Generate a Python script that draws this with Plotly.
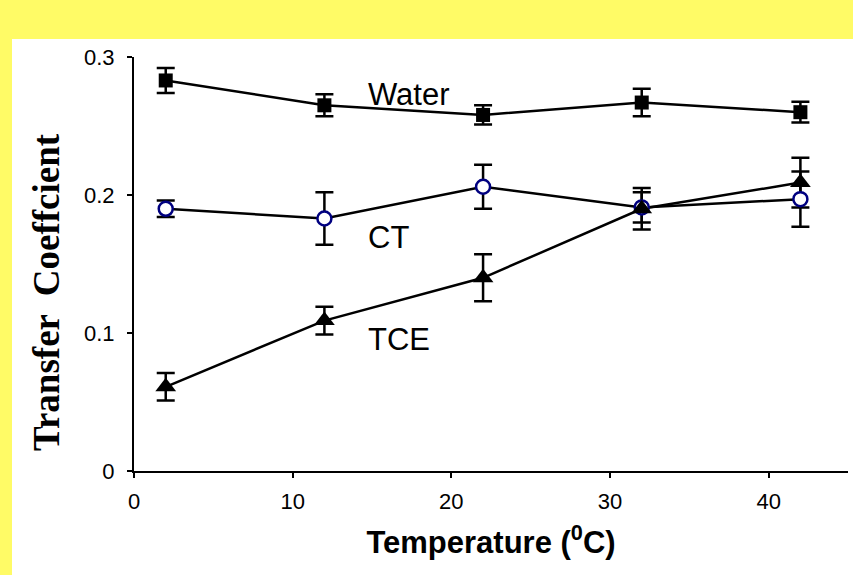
import plotly.graph_objects as go

# Measured transfer coefficients vs. temperature
temperature = [2, 12, 22, 32, 42]
water = [0.283, 0.265, 0.258, 0.267, 0.260]
water_err = [0.009, 0.008, 0.007, 0.010, 0.0075]
ct = [0.190, 0.183, 0.206, 0.191, 0.197]
ct_err = [0.006, 0.019, 0.016, 0.011, 0.020]
tce = [0.061, 0.109, 0.140, 0.190, 0.209]
tce_err = [0.010, 0.010, 0.017, 0.015, 0.018]

x_ticks = [0, 10, 20, 30, 40]
y_ticks = [0, 0.1, 0.2, 0.3]
y_tick_text = ["0", "0.1", "0.2", "0.3"]

W, H = 853, 575
ML, MR, MT, MB = 134, 5, 57, 104
YELLOW = "#FFFB66"
NAVY = "#000080"

fig = go.Figure()

series = [
    ("Water", water, water_err, dict(symbol="square", size=14, color="black")),
    ("CT", ct, ct_err, dict(symbol="circle", size=14, color="white",
                            line=dict(color=NAVY, width=2.5))),
    ("TCE", tce, tce_err, dict(symbol="triangle-up", size=18, color="black")),
]

# lines and error bars underneath all markers
for name, vals, errs, _ in series:
    fig.add_trace(go.Scatter(
        x=temperature, y=vals, mode="lines", name=name,
        line=dict(color="black", width=2.5),
        error_y=dict(type="data", array=errs, visible=True,
                     color="black", thickness=2.5, width=9),
        showlegend=False, hoverinfo="skip",
    ))

for name, vals, _, marker in series:
    fig.add_trace(go.Scatter(
        x=temperature, y=vals, mode="markers", name=name,
        marker=marker, showlegend=False,
    ))

# series labels
labels = [("Water", 14.6, 0.273), ("CT", 14.6, 0.1695), ("TCE", 14.6, 0.095)]
for text, lx, ly in labels:
    fig.add_annotation(x=lx, y=ly, xref="x", yref="y", text=text,
                       showarrow=False, xanchor="left", yanchor="middle",
                       font=dict(family="Liberation Sans, Arial", size=31, color="black"))

# yellow frame strips around the page
pw = W - ML - MR
ph = H - MT - MB
def px(v):
    return (v - ML) / pw
def py(v):
    return (H - MB - v) / ph

strips = [
    (0, 0, W, 39),
    (0, 0, 77, 8),
    (0, 0, 12, H),
]
for x0, y0, x1, y1 in strips:
    fig.add_shape(type="rect", xref="paper", yref="paper",
                  x0=px(x0), x1=px(x1), y0=py(y1), y1=py(y0),
                  fillcolor=YELLOW, line=dict(width=0), layer="below")

# vertical axis title
fig.add_annotation(x=px(46), y=py(292), xref="paper", yref="paper",
                   text="<b>Transfer  Coeffcient</b>", textangle=-90,
                   showarrow=False, xanchor="center", yanchor="middle",
                   font=dict(family="Liberation Serif, Times New Roman", size=37, color="black"))

fig.update_layout(
    width=W, height=H,
    margin=dict(l=ML, r=MR, t=MT, b=MB, pad=0),
    paper_bgcolor="white", plot_bgcolor="white",
    font=dict(family="Liberation Sans, Arial", color="black"),
    xaxis=dict(
        range=[0, 45], tickvals=x_ticks, ticks="outside", ticklen=5, tickwidth=2,
        tickcolor="black", showline=True, linecolor="black", linewidth=2,
        showgrid=False, zeroline=False, tickfont=dict(size=22),
        ticklabelstandoff=5,
        title=dict(text="<b>Temperature (<sup>0</sup>C)</b>",
                   font=dict(size=31), standoff=18),
    ),
    yaxis=dict(
        range=[0, 0.3], tickvals=y_ticks, ticktext=y_tick_text, ticks="outside",
        ticklen=5, tickwidth=2, tickcolor="black", showline=True,
        linecolor="black", linewidth=2, showgrid=False, zeroline=False,
        tickfont=dict(size=22), ticklabelstandoff=8,
    ),
)

fig.write_html("out.html")
